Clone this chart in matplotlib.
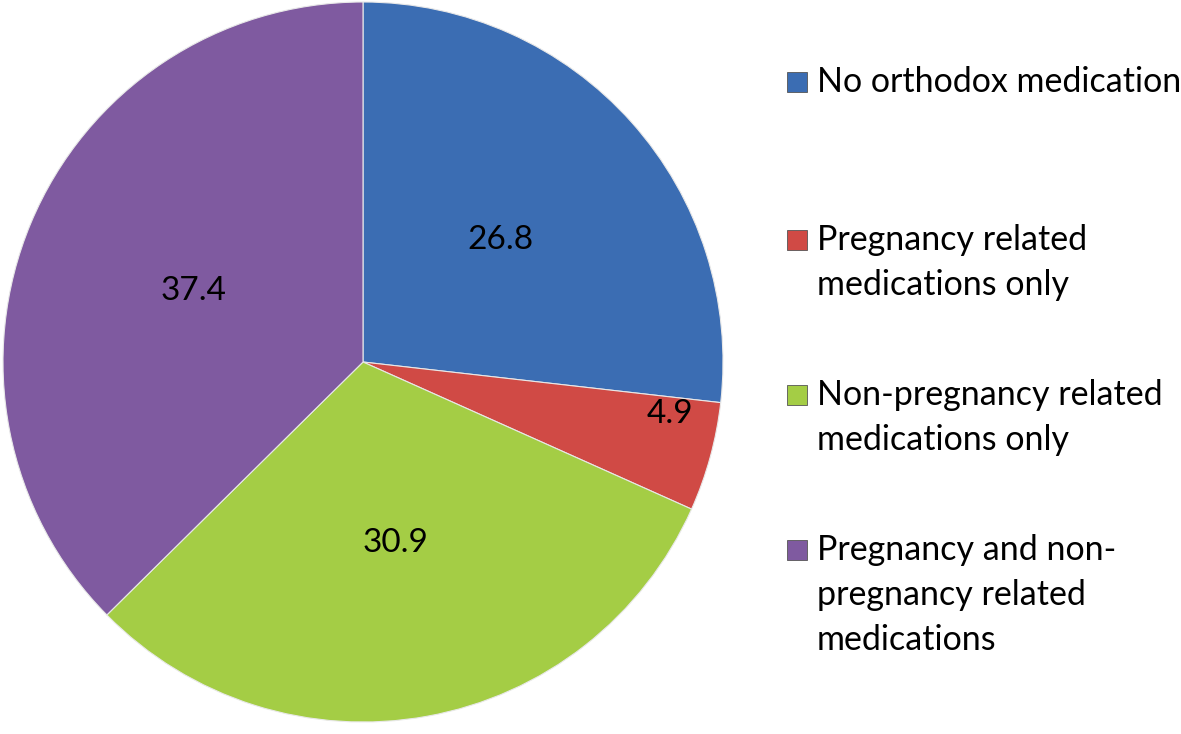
import numpy as np
import matplotlib.pyplot as plt
from matplotlib.patches import Rectangle

categories = ['No orthodox medication',
              'Pregnancy related\nmedications only',
              'Non-pregnancy related\nmedications only',
              'Pregnancy and non-\npregnancy related\nmedications']
values = [26.8, 4.9, 30.9, 37.4]
colors = ['#3b6db3', '#d04a45', '#a4cd45', '#7f5aa0']

plt.rcParams['font.family'] = ['Lato', 'DejaVu Sans']

W, H = 1181, 734
fig = plt.figure(figsize=(W / 100, H / 100), dpi=100)

# pie axes: centre ~ (363, 362) px, radius ~360 px
ax = fig.add_axes([3 / W, (H - 722) / H, 720 / W, 720 / H])
wedges, texts = ax.pie(values, colors=colors, startangle=90, counterclock=False,
                       wedgeprops=dict(edgecolor='#e8e8e8', linewidth=0.8))
ax.set_aspect('equal')
ax.set_xlim(-1, 1)
ax.set_ylim(-1, 1)
ax.axis('off')

# value labels, small slice pushed out near the rim like Excel does
for w, v in zip(wedges, values):
    if v < 10:
        ang = np.deg2rad(w.theta1 + 0.82 * (w.theta2 - w.theta1))
        r = 0.865
    else:
        ang = np.deg2rad((w.theta1 + w.theta2) / 2)
        r = 0.51
    ax.text(r * np.cos(ang), r * np.sin(ang), f'{v}', ha='center', va='center',
            fontsize=24, color='black')

# legend drawn by hand so markers line up with the first text line
line_h = 45 / H
tops = [82, 240, 395, 550]
for lab, col, y in zip(categories, colors, tops):
    yf = (H - y) / H
    fig.patches.append(Rectangle((787 / W, yf - 10 / H), 20 / W, 20 / H,
                                 transform=fig.transFigure, facecolor=col,
                                 edgecolor='#555555', linewidth=0.6))
    for i, part in enumerate(lab.split('\n')):
        fig.text(817 / W, yf - i * line_h, part, ha='left', va='center',
                 fontsize=24.5, color='black')

fig.savefig('out.png', dpi=100)
